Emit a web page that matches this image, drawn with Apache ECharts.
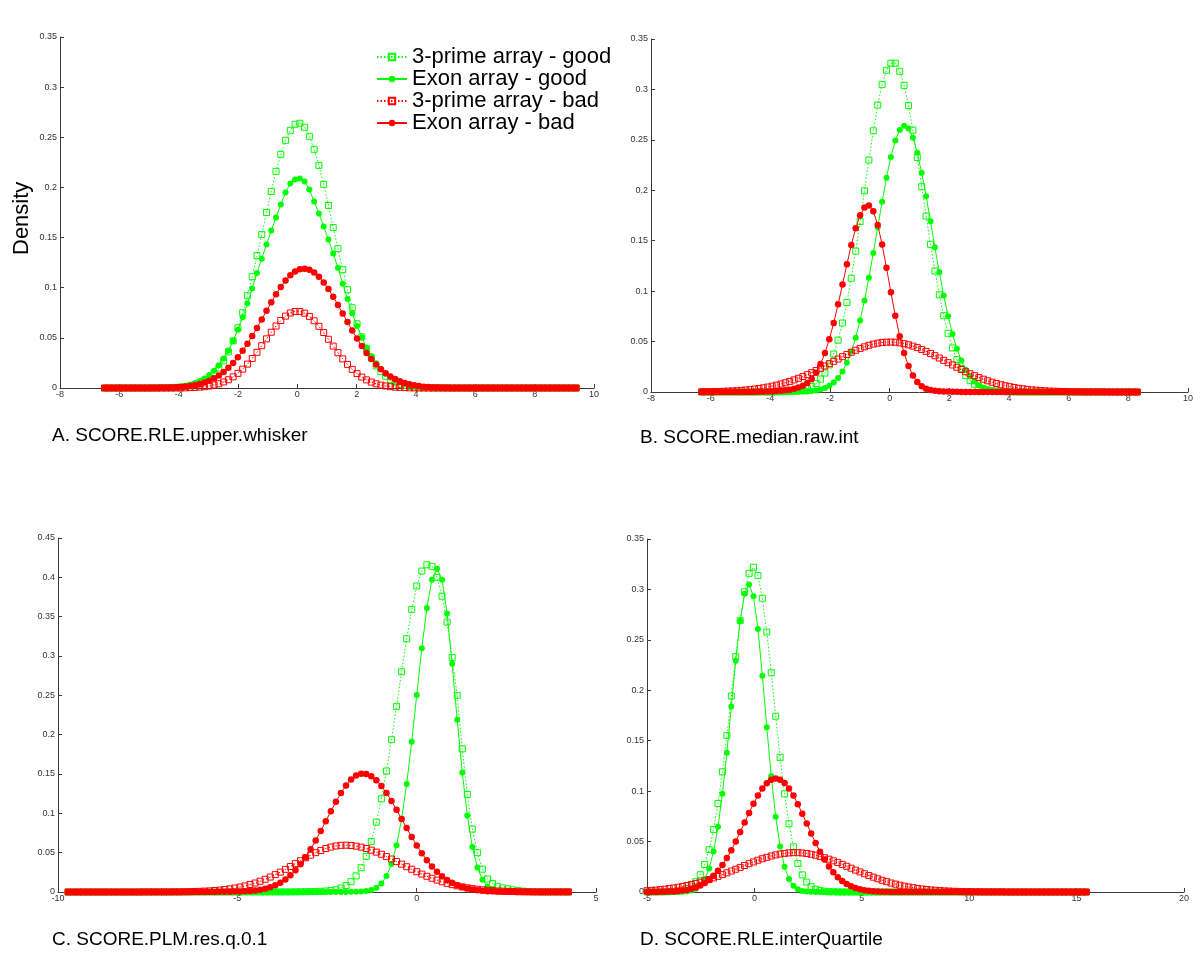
<!DOCTYPE html>
<html>
<head>
<meta charset="utf-8">
<script src="https://cdn.jsdelivr.net/npm/echarts@6/dist/echarts.min.js"></script>
<style>
html,body{margin:0;padding:0;background:#fff;}
#chart{width:1200px;height:970px;}
</style>
</head>
<body>
<div id="chart"></div>
<script>
// Legend / series names
const seriesNames = ['3-prime array - good', 'Exon array - good', '3-prime array - bad', 'Exon array - bad'];
const captions = ['A. SCORE.RLE.upper.whisker', 'B. SCORE.median.raw.int', 'C. SCORE.PLM.res.q.0.1', 'D. SCORE.RLE.interQuartile'];
const yTitle = 'Density';

// x axis settings per panel [min, max, interval]
const xAxisA = [-8, 10, 2];
const xAxisB = [-8, 10, 2];
const xAxisC = [-10, 5, 5];
const xAxisD = [-5, 20, 5];
const yMaxA = 0.35, yMaxB = 0.35, yMaxC = 0.45, yMaxD = 0.35;

// x range of the 100 evaluation points of each panel (density estimate grid)
const xRangeA = [-6.5, 9.4];
const xRangeB = [-6.3, 8.3];
const xRangeC = [-9.72, 4.23];
const xRangeD = [-5.0, 15.45];

// ---------- Panel A ----------
const A_primeGood = [0,0,0,0,0,0,0,0,0,0,
 0.0001,0.0001,0.0002,0.0002,0.0003,0.0006,0.0009,0.0015,0.0023,0.0034,
 0.0051,0.0074,0.0105,0.0147,0.020,0.027,0.036,0.047,0.060,0.075,
 0.092,0.111,0.132,0.153,0.175,0.196,0.216,0.233,0.247,0.257,
 0.263,0.264,0.260,0.251,0.238,0.222,0.203,0.182,0.160,0.139,
 0.118,0.098,0.080,0.064,0.051,0.039,0.030,0.022,0.0163,0.0117,
 0.0083,0.0057,0.0039,0.0026,0.0017,0.0011,0.0007,0.0004,0.0003,0.0002,
 0.0001,0.0001,0,0,0,0,0,0,0,0,
 0,0,0,0,0,0,0,0,0,0,
 0,0,0,0,0,0,0,0,0,0];
const A_exonGood = [0,0,0,0,0,0,0,0,0,0,
 0,0.0001,0.0002,0.0004,0.0006,0.0010,0.0016,0.0023,0.0034,0.0049,
 0.0069,0.0095,0.0129,0.0172,0.0227,0.0295,0.0375,0.047,0.058,0.0705,
 0.0843,0.0992,0.1147,0.129,0.143,0.157,0.170,0.183,0.195,0.204,
 0.208,0.209,0.206,0.198,0.186,0.174,0.161,0.148,0.134,0.1198,
 0.104,0.0888,0.0746,0.0618,0.0504,0.0403,0.0318,0.0247,0.0189,0.0142,
 0.0105,0.0077,0.0055,0.0039,0.0027,0.0018,0.0012,0.0008,0.0005,0.0003,
 0.0002,0.0001,0,0,0,0,0,0,0,0,
 0,0,0,0,0,0,0,0,0,0,
 0,0,0,0,0,0,0,0,0,0];
const A_primeBad = [0,0,0,0,0,0,0,0,0,0,
 0,0,0,0,0,0,0.0001,0.0002,0.0004,0.0006,
 0.0009,0.0013,0.0020,0.0030,0.0042,0.0060,0.0082,0.0111,0.0146,0.0188,
 0.0238,0.0294,0.0356,0.0422,0.0490,0.0556,0.0618,0.0673,0.0717,0.0748,
 0.0763,0.0763,0.0746,0.0714,0.0670,0.0615,0.0553,0.0486,0.0418,0.0352,
 0.0290,0.0235,0.0186,0.0144,0.0109,0.0081,0.0059,0.0042,0.0029,0.0020,
 0.0013,0.0009,0.0006,0.0004,0.0002,0.0001,0,0,0,0,
 0,0,0,0,0,0,0,0,0,0,
 0,0,0,0,0,0,0,0,0,0,
 0,0,0,0,0,0,0,0,0,0];
const A_exonBad = [0,0,0,0,0,0,0,0,0,0,
 0,0,0.0002,0.0003,0.0005,0.0007,0.0010,0.0015,0.0021,0.0030,
 0.0041,0.0055,0.0073,0.0097,0.0125,0.0160,0.0202,0.0250,0.0307,0.0371,
 0.0441,0.0518,0.0599,0.0684,0.0770,0.0854,0.0935,0.1008,0.1072,0.1124,
 0.1162,0.1184,0.119,0.1179,0.1151,0.1109,0.1053,0.0986,0.0910,0.0828,
 0.0743,0.0657,0.0573,0.0493,0.0418,0.0349,0.0288,0.0234,0.0188,0.0148,
 0.0115,0.0089,0.0067,0.0050,0.0037,0.0027,0.0019,0.0013,0.0009,0.0006,
 0.0004,0.0003,0.0002,0.0001,0,0,0,0,0,0,
 0,0,0,0,0,0,0,0,0,0,
 0,0,0,0,0,0,0,0,0,0];

// ---------- Panel B ----------
const B_primeGood = [0,0,0,0,0,0,0,0,0,0,
 0,0,0,0,0,0,0,0.0001,0.0002,0.0003,
 0.0005,0.0008,0.0013,0.0022,0.0035,0.0055,0.0085,0.0128,0.0188,0.0269,
 0.0376,0.0514,0.0684,0.0888,0.1128,0.1397,0.169,0.1995,0.230,0.259,
 0.2845,0.305,0.319,0.326,0.326,0.318,0.304,0.284,0.2597,0.2326,
 0.2035,0.1745,0.1464,0.120,0.0964,0.0757,0.0582,0.0437,0.0322,0.0232,
 0.0163,0.0112,0.0076,0.0050,0.0032,0.0020,0.0013,0.0008,0.0005,0.0003,
 0.0002,0.0001,0,0,0,0,0,0,0,0,
 0,0,0,0,0,0,0,0,0,0,
 0,0,0,0,0,0,0,0,0,0];
const B_exonGood = [0,0,0,0,0,0,0,0,0,0,
 0,0,0,0,0,0,0,0,0,0,
 0,0.0001,0.0002,0.0003,0.0005,0.0009,0.0015,0.0024,0.0039,0.0061,
 0.0094,0.0140,0.0204,0.0290,0.0401,0.0539,0.0710,0.0908,0.1134,0.1379,
 0.1634,0.1887,0.2125,0.2331,0.2493,0.2598,0.264,0.2613,0.2521,0.2372,
 0.2173,0.1942,0.1692,0.1435,0.1187,0.0956,0.0752,0.0575,0.0430,0.0312,
 0.0221,0.0153,0.0103,0.0068,0.0043,0.0027,0.0016,0.0010,0.0006,0.0003,
 0.0002,0.0001,0,0,0,0,0,0,0,0,
 0,0,0,0,0,0,0,0,0,0,
 0,0,0,0,0,0,0,0,0,0];
const B_primeBad = [0.0002,0.0003,0.0003,0.0004,0.0005,0.0007,0.0009,0.0011,0.0013,0.0016,
 0.0020,0.0024,0.0029,0.0035,0.0041,0.0049,0.0058,0.0068,0.0079,0.0091,
 0.0105,0.0120,0.0136,0.0153,0.0172,0.0192,0.0213,0.0235,0.0258,0.0281,
 0.0304,0.0327,0.0350,0.0372,0.0394,0.0414,0.0432,0.0448,0.0463,0.0475,
 0.0484,0.0491,0.0494,0.0495,0.0493,0.0487,0.0479,0.0468,0.0455,0.0440,
 0.0422,0.0403,0.0382,0.0360,0.0337,0.0314,0.0291,0.0268,0.0245,0.0223,
 0.0201,0.0181,0.0162,0.0143,0.0127,0.0111,0.0097,0.0084,0.0072,0.0062,
 0.0053,0.0045,0.0037,0.0031,0.0026,0.0021,0.0018,0.0014,0.0012,0.0009,
 0.0008,0.0006,0.0005,0.0004,0.0003,0.0002,0.0002,0.0001,0.0001,0.0001,
 0.0001,0.0001,0.0001,0,0,0,0,0,0,0];
const B_exonBad = [0,0,0,0,0,0,0,0,0,0,
 0,0.0001,0.0001,0.0002,0.0003,0.0004,0.0006,0.0009,0.0012,0.0017,
 0.0023,0.0032,0.0044,0.0062,0.0090,0.0129,0.0192,0.0277,0.0387,0.0523,
 0.0685,0.0869,0.1066,0.1266,0.1458,0.1624,0.1752,0.1829,0.185,0.1792,
 0.1657,0.1463,0.1231,0.0989,0.0757,0.0554,0.0386,0.0257,0.0163,0.0099,
 0.0057,0.0031,0.0020,0.0012,0.0008,0.0005,0.0004,0.0003,0.0002,0.0001,
 0.0001,0.0001,0.0001,0.0001,0.0001,0.0001,0.0001,0.0001,0.0001,0.0001,
 0,0,0,0,0,0,0,0,0,0,
 0,0,0,0,0,0,0,0,0,0,
 0,0,0,0,0,0,0,0,0,0];

// ---------- Panel C ----------
const C_primeGood = [0,0,0,0,0,0,0,0,0,0,
 0,0,0,0,0,0,0,0,0,0,
 0,0,0,0,0,0,0,0,0,0,
 0,0,0,0,0,0.0001,0.0001,0.0001,0.0001,0.0001,
 0.0001,0.0001,0.0001,0.0001,0.0001,0.0002,0.0003,0.0004,0.0005,0.0007,
 0.0009,0.0012,0.0018,0.0029,0.0050,0.0082,0.0131,0.0205,0.0309,0.0453,
 0.0643,0.0888,0.1185,0.1538,0.1936,0.236,0.280,0.322,0.359,0.389,
 0.408,0.416,0.414,0.400,0.376,0.343,0.298,0.250,0.182,0.124,
 0.080,0.050,0.029,0.0165,0.0107,0.0072,0.0052,0.0040,0.0028,0.0018,
 0.0011,0.0006,0.0003,0.0002,0.0001,0.0001,0.0001,0.0001,0.0001,0.0001];
const C_exonGood = [0,0,0,0,0,0,0,0,0,0,
 0,0,0,0,0,0,0,0,0,0,
 0,0,0,0,0,0,0,0,0,0,
 0,0,0,0,0,0,0,0,0,0,
 0.0001,0.0001,0.0001,0.0001,0.0001,0.0001,0.0001,0.0001,0.0001,0.0001,
 0.0001,0.0001,0.0001,0.0001,0.0001,0.0001,0.0002,0.0003,0.0006,0.0012,
 0.0026,0.0055,0.0108,0.0203,0.0357,0.0594,0.0930,0.1373,0.191,0.2505,
 0.310,0.361,0.397,0.411,0.397,0.354,0.290,0.219,0.152,0.0973,
 0.0572,0.0310,0.0155,0.0071,0.0030,0.0014,0.0007,0.0004,0.0002,0.0001,
 0.0001,0.0001,0.0001,0.0001,0,0,0,0,0,0];
const C_primeBad = [0,0,0,0,0,0,0,0,0,0,
 0,0,0,0,0,0.0001,0.0001,0.0001,0.0001,0.0001,
 0.0001,0.0002,0.0002,0.0003,0.0004,0.0006,0.0008,0.0011,0.0014,0.0019,
 0.0024,0.0031,0.0040,0.0050,0.0063,0.0077,0.0095,0.0114,0.0137,0.0162,
 0.0190,0.0221,0.0253,0.0288,0.0324,0.0361,0.0398,0.0434,0.0468,0.0500,
 0.0528,0.0552,0.0571,0.0585,0.0593,0.0595,0.0591,0.0583,0.0570,0.0553,
 0.0532,0.0507,0.0480,0.0450,0.0419,0.0387,0.0354,0.0321,0.0289,0.0258,
 0.0228,0.0200,0.0175,0.0151,0.0130,0.0110,0.0093,0.0078,0.0064,0.0053,
 0.0043,0.0035,0.0028,0.0022,0.0017,0.0013,0.0010,0.0008,0.0006,0.0004,
 0.0003,0.0002,0.0001,0.0001,0.0001,0.0001,0.0001,0.0001,0.0001,0.0001];
const C_exonBad = [0,0,0,0,0,0,0,0,0,0,
 0,0,0,0,0,0,0,0,0,0,
 0.0001,0.0001,0.0001,0.0001,0.0001,0.0001,0.0001,0.0001,0.0001,0.0001,
 0.0002,0.0003,0.0004,0.0005,0.0007,0.0010,0.0014,0.0020,0.0029,0.0042,
 0.0061,0.0085,0.0118,0.0159,0.0212,0.0276,0.0353,0.0441,0.0543,0.0655,
 0.0775,0.0900,0.1026,0.1147,0.1258,0.1353,0.1429,0.1480,0.1503,0.150,
 0.1471,0.1419,0.1348,0.1259,0.1157,0.1045,0.0929,0.0812,0.0699,0.0592,
 0.0492,0.0403,0.0325,0.0258,0.0201,0.0154,0.0116,0.0086,0.0063,0.0045,
 0.0032,0.0023,0.0016,0.0011,0.0008,0.0006,0.0004,0.0003,0.0002,0.0001,
 0.0001,0.0001,0.0001,0.0001,0.0001,0.0001,0.0001,0.0001,0.0001,0.0001];

// ---------- Panel D ----------
const D_primeGood = [0.0001,0.0001,0.0001,0.0001,0.0002,0.0003,0.0005,0.0010,0.0018,0.0033,
 0.0059,0.0102,0.0171,0.0273,0.0420,0.0620,0.0877,0.1192,0.1552,0.1943,
 0.2333,0.269,0.2976,0.316,0.322,0.3138,0.2913,0.2578,0.2173,0.1743,
 0.1335,0.0973,0.0677,0.0448,0.0283,0.0170,0.0098,0.0053,0.0028,0.0014,
 0.0007,0.0003,0.0002,0.0001,0,0,0,0,0,0,
 0,0,0,0,0,0,0,0,0,0,
 0,0,0,0,0,0,0,0,0,0,
 0,0,0,0,0,0,0,0,0,0,
 0,0,0,0,0,0,0,0,0,0,
 0,0,0,0,0,0,0,0,0,0];
const D_exonGood = [0,0,0,0,0,0,0,0.0001,0.0003,0.0006,
 0.0015,0.0032,0.0066,0.0128,0.0234,0.0402,0.0647,0.0975,0.1381,0.1839,
 0.2293,0.2688,0.2956,0.305,0.2932,0.2608,0.2145,0.1633,0.1149,0.0747,
 0.0451,0.0251,0.0129,0.0062,0.0027,0.0011,0.0004,0.0002,0.0001,0,
 0,0,0,0,0,0,0,0,0,0,
 0,0,0,0,0,0,0,0,0,0,
 0,0,0,0,0,0,0,0,0,0,
 0,0,0,0,0,0,0,0,0,0,
 0,0,0,0,0,0,0,0,0,0,
 0,0,0,0,0,0,0,0,0,0];
const D_primeBad = [0.0013,0.0016,0.0019,0.0024,0.0028,0.0034,0.0040,0.0047,0.0055,0.0064,
 0.0074,0.0085,0.0097,0.0110,0.0124,0.0140,0.0155,0.0172,0.0190,0.0208,
 0.0226,0.0244,0.0263,0.0281,0.0298,0.0315,0.0330,0.0344,0.0357,0.0368,
 0.0377,0.0383,0.0388,0.0390,0.0390,0.0387,0.0382,0.0374,0.0365,0.0353,
 0.0340,0.0325,0.0309,0.0292,0.0274,0.0255,0.0236,0.0217,0.0199,0.0181,
 0.0163,0.0147,0.0131,0.0116,0.0102,0.0089,0.0078,0.0067,0.0058,0.0049,
 0.0042,0.0035,0.0030,0.0025,0.0020,0.0017,0.0014,0.0011,0.0009,0.0007,
 0.0006,0.0004,0.0003,0.0003,0.0002,0.0002,0.0001,0.0001,0.0001,0.0001,
 0.0001,0,0,0,0,0,0,0,0,0,
 0,0,0,0,0,0,0,0,0,0];
const D_exonBad = [0.0001,0.0001,0.0001,0.0002,0.0003,0.0004,0.0006,0.0009,0.0014,0.0021,
 0.0031,0.0045,0.0064,0.0088,0.0120,0.0160,0.0210,0.0268,0.0337,0.0415,
 0.0501,0.0594,0.0689,0.0784,0.0875,0.0957,0.1027,0.1079,0.1113,0.1125,
 0.1114,0.1081,0.1027,0.0956,0.0871,0.0777,0.0679,0.0581,0.0487,0.0400,
 0.0322,0.0253,0.0195,0.0147,0.0109,0.0079,0.0056,0.0039,0.0027,0.0018,
 0.0012,0.0008,0.0005,0.0003,0.0002,0.0001,0.0001,0.0001,0.0001,0.0001,
 0.0001,0,0,0,0,0,0,0,0,0,
 0,0,0,0,0,0,0,0,0,0,
 0,0,0,0,0,0,0,0,0,0,
 0,0,0,0,0,0,0,0,0,0];

// ---------- build ----------
const FONT = '"Liberation Sans", Arial, Helvetica, sans-serif';
const GREEN = '#00ff00', RED = '#ff0000';

function pts(range, ys) {
  const step = (range[1] - range[0]) / (ys.length - 1);
  return ys.map((y, i) => [range[0] + i * step, y]);
}

const styles = [
  { symbol: 'rect', symbolSize: 6, itemStyle: { color: 'rgba(0,0,0,0)', borderColor: GREEN, borderWidth: 1 }, lineStyle: { color: GREEN, width: 1, type: [1.5, 2] } },
  { symbol: 'circle', symbolSize: 6, itemStyle: { color: GREEN, borderWidth: 0 }, lineStyle: { color: GREEN, width: 1, type: 'solid' } },
  { symbol: 'rect', symbolSize: 6, itemStyle: { color: 'rgba(0,0,0,0)', borderColor: RED, borderWidth: 1 }, lineStyle: { color: RED, width: 1, type: [1.5, 2] } },
  { symbol: 'circle', symbolSize: 6.5, itemStyle: { color: RED, borderWidth: 0 }, lineStyle: { color: RED, width: 1, type: 'solid' } }
];

const panels = [
  { range: xRangeA, ys: [A_primeGood, A_exonGood, A_primeBad, A_exonBad] },
  { range: xRangeB, ys: [B_primeGood, B_exonGood, B_primeBad, B_exonBad] },
  { range: xRangeC, ys: [C_primeGood, C_exonGood, C_primeBad, C_exonBad] },
  { range: xRangeD, ys: [D_primeGood, D_exonGood, D_primeBad, D_exonBad] }
];

const series = [];
panels.forEach((p, gi) => {
  p.ys.forEach((ys, si) => {
    const st = styles[si];
    series.push({
      name: seriesNames[si],
      type: 'line',
      xAxisIndex: gi, yAxisIndex: gi,
      data: pts(p.range, ys),
      symbol: st.symbol, symbolSize: st.symbolSize,
      showSymbol: true, showAllSymbol: true,
      itemStyle: st.itemStyle, lineStyle: st.lineStyle,
      emphasis: { disabled: true },
      silent: true, animation: false, z: 2 + si
    });
  });
});

const grids = [
  { left: 60, top: 37, width: 534, height: 351 },
  { left: 651, top: 39, width: 537, height: 353 },
  { left: 58, top: 538, width: 538, height: 354 },
  { left: 647, top: 539, width: 537, height: 353 }
];

const axisColor = '#3a3a3a';
function xAx(gi, cfg) {
  return {
    type: 'value', gridIndex: gi, min: cfg[0], max: cfg[1], interval: cfg[2],
    axisLine: { show: true, onZero: false, lineStyle: { color: axisColor, width: 1 } },
    axisTick: { show: true, inside: true, length: 4, lineStyle: { color: axisColor } },
    axisLabel: { show: true, fontSize: 9, fontFamily: FONT, color: '#333', margin: 2, showMinLabel: true, showMaxLabel: true },
    splitLine: { show: false }
  };
}
function yAx(gi, max) {
  return {
    type: 'value', gridIndex: gi, min: 0, max: max, interval: 0.05,
    axisLine: { show: true, onZero: false, lineStyle: { color: axisColor, width: 1 } },
    axisTick: { show: true, inside: true, length: 4, lineStyle: { color: axisColor } },
    axisLabel: { show: true, fontSize: 9, fontFamily: FONT, color: '#333', margin: 3, showMinLabel: true, showMaxLabel: true,
      formatter: v => String(+v.toFixed(2)) },
    splitLine: { show: false }
  };
}

const capPos = [[52, 426], [640, 428], [52, 930], [640, 930]];

const graphics = captions.map((t, i) => ({
  type: 'text', left: capPos[i][0], top: capPos[i][1], silent: true,
  style: { text: t, font: '19px ' + FONT, fill: '#000' }
}));
graphics.push({
  type: 'text', x: 11, y: 255, rotation: Math.PI / 2, silent: true,
  style: { text: yTitle, font: '22px ' + FONT, fill: '#000', textAlign: 'left', textVerticalAlign: 'top' }
});

const option = {
  backgroundColor: '#fff',
  animation: false,
  grid: grids,
  xAxis: [xAx(0, xAxisA), xAx(1, xAxisB), xAx(2, xAxisC), xAx(3, xAxisD)],
  yAxis: [yAx(0, yMaxA), yAx(1, yMaxB), yAx(2, yMaxC), yAx(3, yMaxD)],
  legend: {
    data: seriesNames, orient: 'vertical', left: 376, top: 46, padding: 0,
    itemWidth: 30, itemHeight: 8, itemGap: 0, selectedMode: false,
    textStyle: { fontSize: 22, fontFamily: FONT, color: '#000', lineHeight: 22 },
    backgroundColor: 'rgba(0,0,0,0)'
  },
  graphic: graphics,
  series: series
};

const chart = echarts.init(document.getElementById('chart'), null, { renderer: 'canvas', width: 1200, height: 970 });
chart.setOption(option);
</script>
</body>
</html>
